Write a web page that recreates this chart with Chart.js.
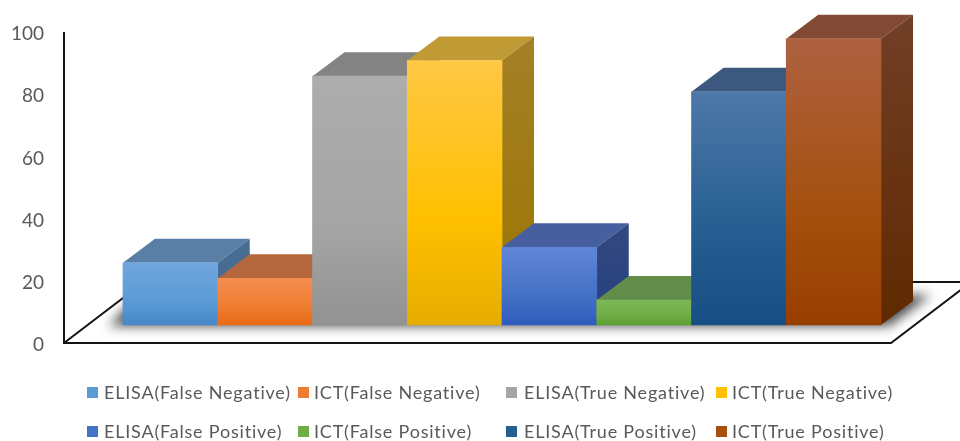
<!DOCTYPE html>
<html>
<head>
<meta charset="utf-8">
<title>ELISA vs ICT</title>
<script src="https://cdn.jsdelivr.net/npm/chart.js@4/dist/chart.umd.min.js"></script>
<style>
  html, body { margin: 0; background: #fff; }
  /* the reference is a slightly soft screenshot */
  #wrap { position: relative; width: 960px; height: 441px; overflow: hidden; filter: blur(0.5px); }
  canvas { position: absolute; left: 0; top: 0; }
  .lg-box { position: absolute; width: 11px; height: 11px; }
  .lg-text { position: absolute; font: 18px Lato, sans-serif; letter-spacing: 0.8px; color: #595959; white-space: nowrap; line-height: 22px; }
</style>
</head>
<body>
<div id="wrap"><canvas id="chart" width="960" height="441"></canvas></div>
<script>
const categories = [
  'ELISA(False Negative)', 'ICT(False Negative)', 'ELISA(True Negative)', 'ICT(True Negative)',
  'ELISA(False Positive)', 'ICT(False Positive)', 'ELISA(True Positive)', 'ICT(True Positive)'
];
const values = [20, 15, 80, 85, 25, 8, 75, 92];
const yTicks = [0, 20, 40, 60, 80, 100];

// face colours per bar: light top, middle, bottom of the front
const frontLight = ['#70a6de', '#f68c50', '#adadad', '#ffc845', '#6185d6', '#7db856', '#4e78a8', '#ae6140'];
const frontMid = ['#5b9bd5', '#ed7d31', '#a5a5a5', '#ffc000', '#4472c4', '#70ad47', '#255e91', '#a5500f'];
const frontDark = ['#4688ca', '#e96b14', '#929292', '#e6ad00', '#2f5cbe', '#5ca02f', '#174e85', '#983f00'];
const topColors = ['#5a7fa6', '#b5683e', '#838383', '#c09a35', '#46609f', '#628c4a', '#3c587e', '#824a34'];
const sideLight = ['#4b6e92', '#a85a25', '#6f6f6f', '#a58027', '#33497f', '#446f2c', '#2f4a70', '#713f27'];
const sideDark = ['#3e6a94', '#8f4a18', '#5f5f5f', '#9a7500', '#253f83', '#3c6a20', '#143f6a', '#5f2900'];

// the boxes stand on a floor that lies a bit above the axis zero
const floorLift = 5.8;
const depthX = 32;
const depthY = 24;

// legend columns and rows
const legendCols = [[87, 104], [298, 314], [506, 524], [716, 732]];
const legendRows = [392, 431];

const threeD = {
  id: 'threeD',
  beforeDatasetsDraw(chart) {
    const ctx = chart.ctx;
    const y = chart.scales.y;
    const left = chart.chartArea.left;
    const right = chart.chartArea.right;
    const zero = y.getPixelForValue(0);
    const axisX = left - 59;
    const frontEnd = right + 10;
    const rise = 61;
    const run = 80;

    // floor outline and y axis
    ctx.save();
    ctx.strokeStyle = '#141414';
    ctx.lineWidth = 2;
    ctx.beginPath();
    ctx.moveTo(axisX, y.getPixelForValue(100));
    ctx.lineTo(axisX, zero);
    ctx.lineTo(frontEnd, zero);
    ctx.lineTo(frontEnd + run, zero - rise);
    ctx.moveTo(axisX, zero);
    ctx.lineTo(axisX + run, zero - rise);
    ctx.lineTo(frontEnd + run, zero - rise);
    ctx.stroke();

    // soft shadow under the boxes
    const base = y.getPixelForValue(floorLift);
    ctx.filter = 'blur(6px)';
    ctx.fillStyle = 'rgba(0,0,0,0.7)';
    ctx.beginPath();
    ctx.moveTo(left - 14, base + 1);
    ctx.lineTo(right + 8, base + 1);
    ctx.lineTo(right + 50, base - 30);
    ctx.lineTo(left + 15, base - 30);
    ctx.closePath();
    ctx.fill();
    ctx.restore();

    // top and side faces, left to right so each box covers the one before
    const bars = chart.getDatasetMeta(0).data;
    bars.forEach((bar, i) => {
      const l = bar.x - bar.width / 2;
      const r = bar.x + bar.width / 2;
      ctx.fillStyle = topColors[i];
      ctx.beginPath();
      ctx.moveTo(l, bar.y);
      ctx.lineTo(l + depthX, bar.y - depthY);
      ctx.lineTo(r + depthX, bar.y - depthY);
      ctx.lineTo(r, bar.y);
      ctx.closePath();
      ctx.fill();

      const g = ctx.createLinearGradient(0, bar.y - depthY, 0, bar.base);
      g.addColorStop(0, sideLight[i]);
      g.addColorStop(1, sideDark[i]);
      ctx.fillStyle = g;
      ctx.beginPath();
      ctx.moveTo(r, bar.y);
      ctx.lineTo(r + depthX, bar.y - depthY);
      ctx.lineTo(r + depthX, bar.base - depthY);
      ctx.lineTo(r, bar.base);
      ctx.closePath();
      ctx.fill();
    });
  }
};

function frontFill(context) {
  const i = context.dataIndex;
  const y = context.chart.scales.y;
  if (i === undefined || !y) return '#999';
  const y0 = y.getPixelForValue(values[i] + floorLift);
  const y1 = y.getPixelForValue(floorLift);
  if (!isFinite(y0) || !isFinite(y1)) return frontMid[i];
  const g = context.chart.ctx.createLinearGradient(0, y0, 0, y1);
  g.addColorStop(0, frontLight[i]);
  g.addColorStop(0.6, frontMid[i]);
  g.addColorStop(1, frontDark[i]);
  return g;
}

new Chart(document.getElementById('chart'), {
  type: 'bar',
  data: {
    labels: categories,
    datasets: [{
      data: values.map(v => [floorLift, v + floorLift]),
      backgroundColor: frontFill,
      borderWidth: 0,
      barPercentage: 1,
      categoryPercentage: 1,
      clip: false
    }]
  },
  options: {
    responsive: false,
    animation: false,
    layout: { padding: { top: 32, right: 79, bottom: 98, left: 0 } },
    plugins: { legend: { display: false }, tooltip: { enabled: false } },
    scales: {
      x: { display: false },
      y: {
        min: 0,
        max: 100,
        afterFit(scale) {
          // big tick padding only moves the labels left, it should not shrink the plot
          scale.width = 123;
          scale.paddingTop = 0;
          scale.paddingBottom = 0;
        },
        afterBuildTicks(scale) { scale.ticks = yTicks.map(value => ({ value })); },
        border: { display: false },
        grid: { display: false, drawTicks: false },
        ticks: { padding: 79, labelOffset: 2, color: '#595959', font: { family: 'Lato', size: 19 } }
      }
    }
  },
  plugins: [threeD]
});

// two rows of four legend entries, filled row by row
const wrap = document.getElementById('wrap');
categories.forEach((name, n) => {
  const col = legendCols[n % 4];
  const rowY = legendRows[Math.floor(n / 4)];
  const box = document.createElement('div');
  box.className = 'lg-box';
  box.style.left = col[0] + 'px';
  box.style.top = (rowY - 5) + 'px';
  box.style.background = frontMid[n];
  wrap.appendChild(box);
  const text = document.createElement('div');
  text.className = 'lg-text';
  text.style.left = col[1] + 'px';
  text.style.top = (rowY - 11) + 'px';
  text.textContent = name;
  wrap.appendChild(text);
});
</script>
</body>
</html>
